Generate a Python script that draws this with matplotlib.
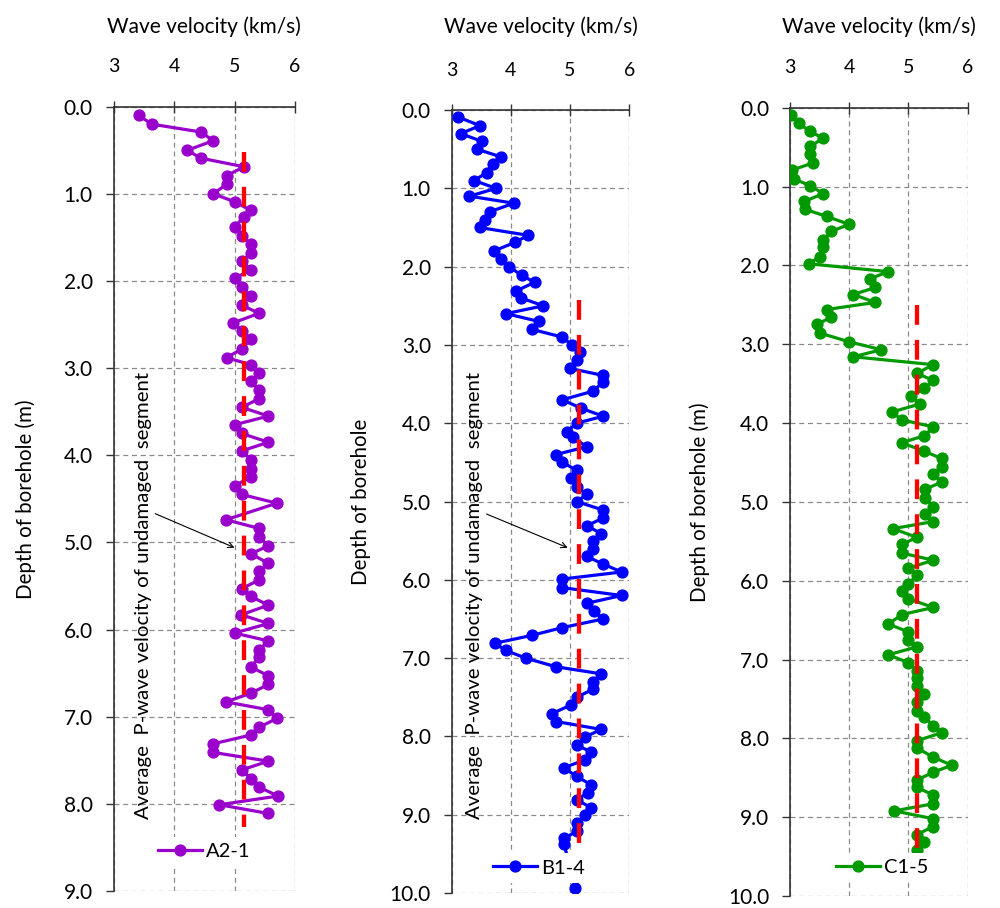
import numpy as np
import matplotlib
matplotlib.use("Agg")
import matplotlib.pyplot as plt

plt.rcParams["font.family"] = ["Lato", "DejaVu Sans"]

# ---- borehole A2-1 ----
depth_a = [0.10, 0.20, 0.29, 0.39, 0.50, 0.59, 0.69, 0.79, 0.89, 1.00,
           1.09, 1.19, 1.27, 1.38, 1.48, 1.58, 1.68, 1.77, 1.87, 1.97,
           2.07, 2.17, 2.28, 2.37, 2.48, 2.57, 2.67, 2.78, 2.88, 2.96,
           3.06, 3.15, 3.25, 3.35, 3.45, 3.55, 3.65, 3.75, 3.85, 3.95,
           4.05, 4.16, 4.25, 4.35, 4.45, 4.55,
           4.74, 4.84, 4.94, 5.04, 5.13, 5.24, 5.33, 5.43, 5.53, 5.62,
           5.72, 5.83, 5.93,
           6.04, 6.13, 6.23, 6.32, 6.43, 6.53, 6.63, 6.73, 6.83, 6.92,
           7.02, 7.12, 7.21, 7.31, 7.41, 7.51, 7.61, 7.71, 7.81, 7.91,
           8.01, 8.11]
vel_a = [3.42, 3.63, 4.44, 4.65, 4.22, 4.44, 5.16, 4.87, 4.87, 4.65,
         5.00, 5.27, 5.15, 5.00, 5.12, 5.27, 5.27, 5.12, 5.27, 5.00,
         5.12, 5.27, 5.12, 5.41, 4.98, 5.12, 5.27, 5.12, 4.87, 5.27,
         5.41, 5.27, 5.41, 5.41, 5.12, 5.56, 5.00, 5.12, 5.56, 5.12,
         5.27, 5.27, 5.27, 5.00, 5.12, 5.70,
         4.86, 5.41, 5.41, 5.56, 5.27, 5.56, 5.41, 5.41, 5.12, 5.27,
         5.56, 5.11, 5.56,
         5.00, 5.56, 5.41, 5.41, 5.27, 5.56, 5.56, 5.27, 4.86, 5.56,
         5.70, 5.41, 5.27, 4.65, 4.65, 5.56, 5.12, 5.27, 5.41, 5.72,
         4.75, 5.56]

# ---- borehole B1-4 ----
depth_b = [0.09, 0.20, 0.30, 0.40, 0.50, 0.60, 0.69, 0.80, 0.90, 1.00,
           1.10, 1.19, 1.30, 1.40, 1.50, 1.60, 1.69, 1.80, 1.90, 2.00,
           2.11, 2.20, 2.31, 2.40, 2.50, 2.60, 2.70, 2.80, 2.90, 3.00,
           3.09, 3.19, 3.30, 3.39, 3.47, 3.59, 3.70, 3.81, 3.91, 4.00,
           4.11, 4.18, 4.30, 4.40, 4.50, 4.60, 4.70, 4.81, 4.91, 5.00,
           5.11, 5.21, 5.31, 5.41, 5.51, 5.61, 5.70, 5.80, 5.90, 5.99,
           6.10, 6.20, 6.30, 6.40, 6.50, 6.61, 6.71, 6.81, 6.90, 7.00,
           7.11, 7.20, 7.31, 7.40, 7.50, 7.60, 7.71, 7.81, 7.91, 8.01,
           8.11, 8.20, 8.30, 8.40, 8.51, 8.62, 8.72, 8.81, 8.91, 9.00,
           9.11, 9.21, 9.30, 9.38, 9.94]
vel_b = [3.11, 3.48, 3.15, 3.51, 3.43, 3.84, 3.69, 3.59, 3.38, 3.75,
         3.30, 4.05, 3.64, 3.56, 3.47, 4.29, 4.07, 3.71, 3.84, 3.97,
         4.18, 4.40, 4.09, 4.17, 4.55, 3.92, 4.47, 4.35, 4.87, 5.03,
         5.17, 5.11, 5.00, 5.56, 5.56, 5.39, 4.87, 5.19, 5.56, 5.11,
         4.94, 5.05, 5.28, 4.76, 4.87, 5.11, 5.01, 5.11, 5.28, 5.11,
         5.56, 5.56, 5.28, 5.53, 5.39, 5.39, 5.28, 5.56, 5.87, 4.87,
         4.87, 5.87, 5.28, 5.40, 5.56, 4.87, 4.35, 3.73, 3.91, 4.25,
         4.76, 5.52, 5.38, 5.38, 5.11, 5.01, 4.69, 4.77, 5.52, 5.25,
         5.11, 5.36, 5.25, 4.89, 5.11, 5.36, 5.30, 5.11, 5.36, 5.25,
         5.11, 5.12, 4.90, 4.90, 5.09]

# ---- borehole C1-5 ----
depth_c = [0.09, 0.20, 0.30, 0.39, 0.49, 0.59, 0.70, 0.79, 0.90, 0.99,
           1.09, 1.19, 1.29, 1.38, 1.48, 1.57, 1.68, 1.77, 1.89, 1.98,
           2.08, 2.17, 2.28, 2.37, 2.47, 2.56, 2.66, 2.75, 2.86, 2.97,
           3.07, 3.16, 3.26, 3.37, 3.46, 3.56, 3.66, 3.76, 3.86, 3.96,
           4.05, 4.16, 4.25, 4.36, 4.45, 4.56, 4.65, 4.75, 4.84, 4.95,
           5.06, 5.15, 5.25, 5.34, 5.45, 5.54, 5.65, 5.74, 5.84, 5.93,
           6.04, 6.13, 6.23, 6.34, 6.43, 6.55, 6.65, 6.75, 6.84, 6.94,
           7.04, 7.14, 7.24, 7.34, 7.44, 7.54, 7.65, 7.73, 7.84, 7.93,
           8.03, 8.12, 8.24, 8.34, 8.43, 8.53, 8.62, 8.72, 8.83, 8.92,
           9.02, 9.12, 9.22, 9.32, 9.42]
vel_c = [3.02, 3.15, 3.34, 3.56, 3.34, 3.34, 3.39, 3.04, 3.06, 3.34,
         3.56, 3.24, 3.26, 3.62, 4.00, 3.69, 3.56, 3.55, 3.51, 3.32,
         4.66, 4.35, 4.44, 4.07, 4.44, 3.62, 3.69, 3.45, 3.51, 4.00,
         4.54, 4.07, 5.42, 5.14, 5.42, 5.27, 5.05, 5.19, 4.72, 4.89,
         5.42, 5.27, 4.89, 5.27, 5.56, 5.56, 5.42, 5.56, 5.28, 5.28,
         5.42, 5.28, 5.42, 4.74, 5.14, 4.89, 4.89, 5.42, 5.00, 5.14,
         5.00, 4.89, 5.00, 5.42, 4.89, 4.66, 5.00, 5.00, 5.14, 4.66,
         5.00, 5.14, 5.14, 5.14, 5.27, 5.14, 5.14, 5.27, 5.42, 5.56,
         5.14, 5.14, 5.42, 5.73, 5.42, 5.14, 5.14, 5.42, 5.42, 4.76,
         5.42, 5.42, 5.14, 5.27, 5.14]

names = ["A2-1", "B1-4", "C1-5"]
colors = ["#9900cc", "#0000ff", "#009900"]
depths = [depth_a, depth_b, depth_c]
vels = [vel_a, vel_b, vel_c]
max_depth = [9, 10, 10]
avg_vel = 5.15
avg_span = [(0.52, 8.27), (2.43, 9.5), (2.50, 9.4)]
ylabels = ["Depth of borehole (m)", "Depth of borehole", "Depth of borehole (m)"]

# axes boxes in figure fractions: left, bottom, width, height
boxes = [(0.1135, 0.0187, 0.1815, 0.8638),
         (0.4517, 0.0165, 0.1776, 0.8623),
         (0.7900, 0.0132, 0.1777, 0.8682)]
leg_pos = [(0.50, 0.05), (0.49, 0.032), (0.52, 0.036)]
ylab_x = [-0.427, -0.455, -0.450]
xlab_y = [1.094, 1.098, 1.095]

note = "Average  P-wave velocity of undamaged  segment"
# (text x, text y, arrow tail, arrow head) in data units
notes = [(3.49, 5.61, (3.69, 4.67), (5.00, 5.06)),
         (3.39, 6.20, (3.59, 5.16), (4.96, 5.59)),
         None]

fig = plt.figure(figsize=(10, 9.08), dpi=100)
for i in range(3):
    ax = fig.add_axes(boxes[i])
    ax.plot(vels[i], depths[i], "-o", color=colors[i], lw=2.3, ms=7.8, label=names[i], zorder=3)
    ax.plot([avg_vel, avg_vel], avg_span[i], color="#ff0000", lw=3.1, dashes=(4.6, 3.5), zorder=4)

    ax.set_xlim(3, 6)
    ax.set_ylim(max_depth[i], 0)
    ax.set_xticks([3, 4, 5, 6])
    ax.set_yticks(np.arange(0, max_depth[i] + 1))
    ax.yaxis.set_major_formatter(matplotlib.ticker.FormatStrFormatter("%.1f"))
    ax.xaxis.tick_top()
    ax.xaxis.set_label_position("top")
    ax.tick_params(axis="x", direction="inout", length=9, width=1, pad=18, labelsize=14, color="#333333")
    ax.tick_params(axis="y", direction="out", length=6, width=1, pad=9, labelsize=15, color="#333333")
    ax.set_xlabel("Wave velocity (km/s)", fontsize=15)
    ax.xaxis.set_label_coords(0.5, xlab_y[i])
    ax.set_ylabel(ylabels[i], fontsize=14.8)
    ax.yaxis.set_label_coords(ylab_x[i], 0.5)

    ax.grid(True, color="#8a8a8a", ls=(0, (4, 3)), lw=0.9)
    ax.set_axisbelow(True)
    for s in ["right", "bottom"]:
        ax.spines[s].set_visible(False)
    for s in ["left", "top"]:
        ax.spines[s].set_color("#333333")
        ax.spines[s].set_linewidth(1.2)

    if notes[i] is not None:
        tx, ty, tail, head = notes[i]
        ax.text(tx, ty, note, rotation=90, ha="center", va="center", fontsize=14.7)
        ax.annotate("", xy=head, xytext=tail,
                    arrowprops=dict(arrowstyle="->", color="black", lw=0.8, shrinkA=0, shrinkB=0))

    leg = ax.legend(loc="center", bbox_to_anchor=leg_pos[i], fontsize=14.5, frameon=True,
                    handlelength=2.2, handletextpad=0.2, borderpad=0.3, fancybox=False)
    leg.get_frame().set_facecolor("white")
    leg.get_frame().set_edgecolor("none")
    leg.get_frame().set_alpha(1)
    leg.set_zorder(10)

fig.savefig("out.png", dpi=100)
